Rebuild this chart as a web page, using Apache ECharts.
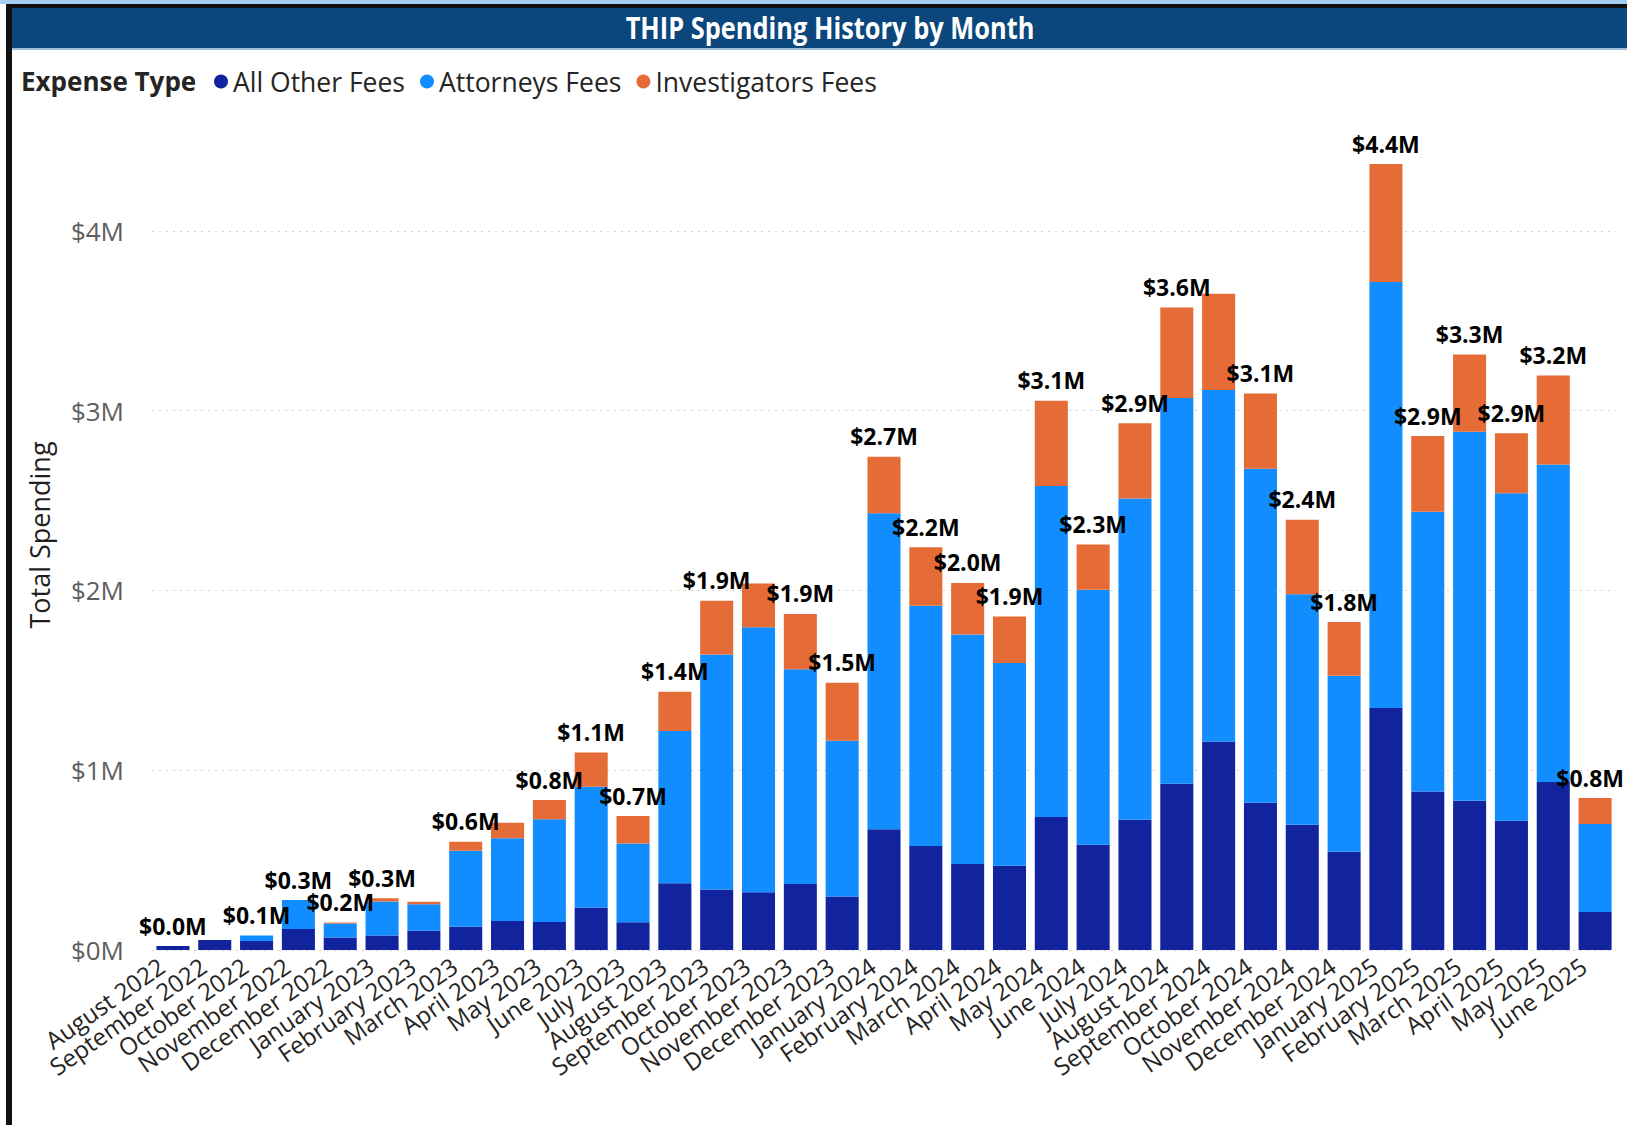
<!DOCTYPE html>
<html>
<head>
<meta charset="utf-8">
<title>THIP Spending History by Month</title>
<script src="https://cdn.jsdelivr.net/npm/echarts@6/dist/echarts.min.js"></script>
<style>
  html, body { margin: 0; padding: 0; background: #fff; }
  #chart { width: 1627px; height: 1125px; }
</style>
</head>
<body>
<div id="chart"></div>
<script>
// monthly spending, in $M
var months = [
  'August 2022', 'September 2022', 'October 2022', 'November 2022', 'December 2022',
  'January 2023', 'February 2023', 'March 2023', 'April 2023', 'May 2023', 'June 2023',
  'July 2023', 'August 2023', 'September 2023', 'October 2023', 'November 2023', 'December 2023',
  'January 2024', 'February 2024', 'March 2024', 'April 2024', 'May 2024', 'June 2024',
  'July 2024', 'August 2024', 'September 2024', 'October 2024', 'November 2024', 'December 2024',
  'January 2025', 'February 2025', 'March 2025', 'April 2025', 'May 2025', 'June 2025'
];
var allOtherFees = [
  0.022, 0.056, 0.05, 0.117, 0.07,
  0.08, 0.107, 0.13, 0.161, 0.156, 0.237,
  0.154, 0.371, 0.337, 0.321, 0.367, 0.297,
  0.671, 0.579, 0.479, 0.469, 0.74, 0.585,
  0.724, 0.925, 1.16, 0.819, 0.697, 0.546,
  1.346, 0.881, 0.83, 0.719, 0.934, 0.212
];
var attorneysFees = [
  0, 0, 0.03, 0.161, 0.078,
  0.19, 0.147, 0.422, 0.46, 0.571, 0.671,
  0.439, 0.847, 1.307, 1.474, 1.194, 0.867,
  1.758, 1.336, 1.276, 1.128, 1.841, 1.419,
  1.787, 2.146, 1.955, 1.858, 1.282, 0.979,
  2.37, 1.557, 2.053, 1.821, 1.767, 0.489
];
var investigatorsFees = [
  0, 0, 0, 0, 0.005,
  0.018, 0.015, 0.05, 0.087, 0.107, 0.191,
  0.152, 0.219, 0.298, 0.244, 0.308, 0.323,
  0.315, 0.325, 0.287, 0.258, 0.474, 0.251,
  0.419, 0.503, 0.535, 0.419, 0.414, 0.299,
  0.656, 0.421, 0.43, 0.334, 0.495, 0.144
];
var yTickLabels = ['$0M', '$1M', '$2M', '$3M', '$4M'];
// months whose total label is hidden in the report (overlap)
var hiddenLabels = [1, 6, 8, 14, 25];

var totals = months.map(function(m, i) {
  return allOtherFees[i] + attorneysFees[i] + investigatorsFees[i];
});

var navy = '#12239E', blue = '#118DFF', orange = '#E66C37';
var font = "'Open Sans', 'Noto Sans', sans-serif";

var chart = echarts.init(document.getElementById('chart'), null, { renderer: 'svg' });
chart.setOption({
  animation: false,
  backgroundColor: '#fff',
  textStyle: { fontFamily: font },
  graphic: [
    { type: 'rect', shape: { x: 0, y: 0, width: 1627, height: 4 }, style: { fill: '#a6cdf2' } },
    { type: 'rect', shape: { x: 6, y: 4, width: 1621, height: 4 }, style: { fill: '#111' } },
    { type: 'rect', shape: { x: 12, y: 8, width: 1615, height: 40 }, style: { fill: '#0b477c' } },
    { type: 'rect', shape: { x: 12, y: 48, width: 1615, height: 2 }, style: { fill: '#9dbcd8' } },
    { type: 'rect', shape: { x: 6, y: 4, width: 6, height: 1121 }, style: { fill: '#111' } },
    {
      type: 'text', x: 830, y: 27, scaleX: 0.82,
      style: {
        text: 'THIP Spending History by Month', fill: '#fff',
        font: "bold 31px " + font,
        textAlign: 'center', textVerticalAlign: 'middle'
      }
    },
    {
      type: 'text', x: 21, y: 81,
      style: {
        text: 'Expense Type', fill: '#252423',
        font: "bold 26px " + font,
        textAlign: 'left', textVerticalAlign: 'middle'
      }
    }
  ],
  legend: {
    data: ['All Other Fees', 'Attorneys Fees', 'Investigators Fees'],
    left: 214, top: 68, padding: 0,
    icon: 'circle', itemWidth: 14, itemHeight: 14, itemGap: 15,
    textStyle: { fontSize: 26.5, color: '#252423', fontFamily: font }
  },
  grid: { left: 152, right: 11, top: 141, bottom: 175, containLabel: false, outerBoundsMode: 'none' },
  xAxis: {
    type: 'category',
    data: months,
    axisLine: { show: false },
    axisTick: { show: false },
    axisLabel: { interval: 0, rotate: 35, fontSize: 24, color: '#252423', margin: 5, padding: [0, 14, 0, 0] }
  },
  yAxis: {
    type: 'value',
    min: 0, max: 4.5, interval: 1,
    name: 'Total Spending',
    nameLocation: 'middle', nameRotate: 90, nameGap: 99,
    nameTextStyle: { fontSize: 27, color: '#1f1f1f', padding: [0, 0, 0, 21] },
    axisLabel: {
      fontSize: 26, color: '#605E5C', margin: 28, showMaxLabel: false,
      formatter: function(v) { return yTickLabels[Math.round(v)] || ''; }
    },
    splitLine: { showMaxLine: false, lineStyle: { color: '#d4d2d0', type: [2, 5], width: 1 } }
  },
  series: [
    { name: 'All Other Fees', type: 'bar', stack: 'total', barCategoryGap: '21%', itemStyle: { color: navy }, data: allOtherFees },
    { name: 'Attorneys Fees', type: 'bar', stack: 'total', itemStyle: { color: blue }, data: attorneysFees },
    {
      name: 'Investigators Fees', type: 'bar', stack: 'total', itemStyle: { color: orange }, data: investigatorsFees,
      label: {
        show: true, position: 'top', distance: 9,
        fontSize: 23, fontWeight: 'bold', color: '#000', fontFamily: font,
        formatter: function(p) {
          if (hiddenLabels.indexOf(p.dataIndex) >= 0) return '';
          return '$' + totals[p.dataIndex].toFixed(1) + 'M';
        }
      },
      // keep the last label inside the visual
      labelLayout: function(p) {
        var r = p.labelRect;
        var over = r.x + r.width - 1624;
        return over > 0 ? { dx: -over } : {};
      }
    }
  ]
});
window.addEventListener('resize', function() { chart.resize(); });
</script>
</body>
</html>
